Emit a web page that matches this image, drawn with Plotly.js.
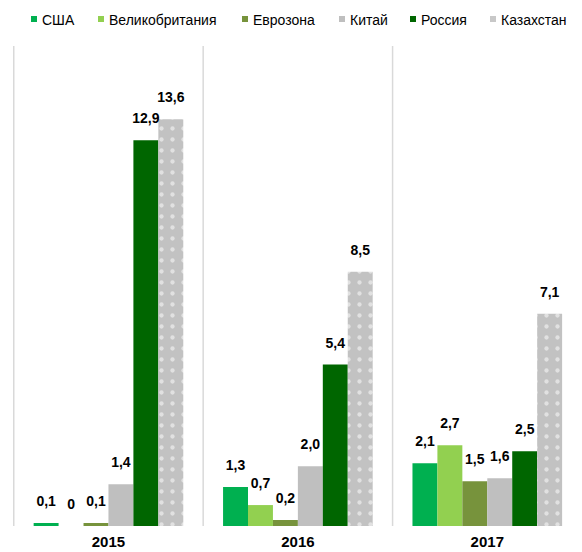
<!DOCTYPE html>
<html><head><meta charset="utf-8">
<script src="https://cdn.plot.ly/plotly-3.0.1.min.js"></script>
<style>body{margin:0;background:#fff}#chart{width:582px;height:552px}</style>
</head><body><div id="chart"></div>
<script>
var years = ['2015', '2016', '2017'];
var seriesNames = ['США', 'Великобритания', 'Еврозона', 'Китай', 'Россия', 'Казахстан'];
var usa = [0.1, 1.3, 2.1];
var uk = [0, 0.7, 2.7];
var euro = [0.1, 0.2, 1.5];
var china = [1.4, 2.0, 1.6];
var russia = [12.9, 5.4, 2.5];
var kaz = [13.6, 8.5, 7.1];
var seriesValues = [usa, uk, euro, china, russia, kaz];
var colors = ['#00B050', '#92D050', '#77933C', '#BFBFBF', '#006600', '#C2C2C2'];

var FONT = 'Liberation Sans, Arial, sans-serif';
function fmt(v){ return v === 0 ? '0' : v.toFixed(1).replace('.', ','); }

var traces = [];
seriesValues.forEach(function(vals, i){
  var t = {
    type: 'bar', name: seriesNames[i], x: years, y: vals,
    marker: {color: colors[i], line: {width: 0}},
    hoverinfo: 'skip', showlegend: false
  };
  if (i === 5) {
    t.marker.pattern = {shape: '.', fgcolor: '#ffffff', bgcolor: '#C2C2C2', size: 11, solidity: 0.12, fillmode: 'overlay'};
  }
  traces.push(t);
});
// value labels, grouped like the bars
seriesValues.forEach(function(vals, i){
  traces.push({
    type: 'scatter', mode: 'markers+text', x: years, y: vals,
    text: vals.map(fmt), textposition: 'top center', cliponaxis: false,
    textfont: {family: FONT, size: 14, color: '#000', weight: 'bold'},
    marker: {size: 20, opacity: 0},
    hoverinfo: 'skip', showlegend: false
  });
});

// layout geometry (pixels) for the custom legend
var L = 13, R = 0, T = 46, B = 26, W = 582, H = 552;
var PW = W - L - R, PH = H - T - B;
function px(x){ return (x - L) / PW; }
function py(y){ return (H - B - y) / PH; }

var legendTextX = [40, 107, 251, 348, 419, 499];
var shapes = [-0.5, 0.5, 1.5].map(function(x){
  return {type: 'line', xref: 'x', yref: 'paper', x0: x, x1: x, y0: 0, y1: 1,
          line: {color: '#D9D9D9', width: 1.5}};
});
var annotations = [];
seriesNames.forEach(function(n, i){
  var tx = legendTextX[i];
  shapes.push({type: 'rect', xref: 'paper', yref: 'paper',
    x0: px(tx - 9), x1: px(tx - 3), y0: py(22), y1: py(16),
    fillcolor: i === 5 ? '#C8C8C8' : colors[i], line: {width: 0}});
  annotations.push({xref: 'paper', yref: 'paper', x: px(tx), y: py(20.5),
    xanchor: 'left', yanchor: 'middle', text: n, showarrow: false,
    font: {family: FONT, size: 14, color: '#000'}});
});

var layout = {
  width: W, height: H,
  margin: {l: L, r: R, t: T, b: B},
  barmode: 'group', bargap: 0.21, bargroupgap: 0,
  scattermode: 'group', scattergap: 0.21,
  showlegend: false,
  xaxis: {type: 'category', showline: false, showgrid: false, zeroline: false, ticks: '',
          ticklabelstandoff: 5,
          tickfont: {family: FONT, size: 15, color: '#000', weight: 'bold'}},
  yaxis: {range: [0, 16.05], visible: false, showgrid: false, zeroline: false},
  shapes: shapes, annotations: annotations,
  plot_bgcolor: '#fff', paper_bgcolor: '#fff',
  font: {family: FONT}
};

Plotly.newPlot('chart', traces, layout, {displayModeBar: false, staticPlot: true});
</script></body></html>
